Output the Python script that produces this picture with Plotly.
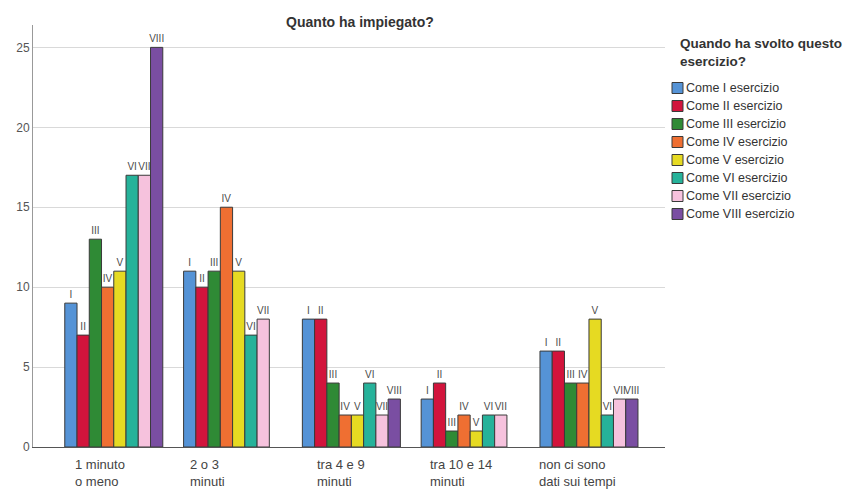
import plotly.graph_objects as go

# Time categories (x axis), shown as two-line labels
categories = ["1 minuto o meno", "2 o 3 minuti", "tra 4 e 9 minuti",
              "tra 10 e 14 minuti", "non ci sono dati sui tempi"]
category_labels = ["1 minuto<br>o meno", "2 o 3<br>minuti", "tra 4 e 9<br>minuti",
                   "tra 10 e 14<br>minuti", "non ci sono<br>dati sui tempi"]

# One series per exercise position
series_names = ["Come I esercizio", "Come II esercizio", "Come III esercizio",
                "Come IV esercizio", "Come V esercizio", "Come VI esercizio",
                "Come VII esercizio", "Come VIII esercizio"]
bar_tags = ["I", "II", "III", "IV", "V", "VI", "VII", "VIII"]

counts_I = [9, 11, 8, 3, 6]
counts_II = [7, 10, 8, 4, 6]
counts_III = [13, 11, 4, 1, 4]
counts_IV = [10, 15, 2, 2, 4]
counts_V = [11, 11, 2, 1, 8]
counts_VI = [17, 7, 4, 2, 2]
counts_VII = [17, 8, 2, 2, 3]
counts_VIII = [25, None, 3, None, 3]

y_ticks = [0, 5, 10, 15, 20, 25]

all_counts = [counts_I, counts_II, counts_III, counts_IV,
              counts_V, counts_VI, counts_VII, counts_VIII]
colors = ["#5593d6", "#d2143c", "#2f8a35", "#ef6f32",
          "#e6da22", "#26b29a", "#f6c2dd", "#7a4ea2"]

FONT = "Liberation Sans, Arial, sans-serif"
TAG_FONT = "Liberation Sans Narrow, Arial Narrow, Liberation Sans, sans-serif"
W, H = 857, 491
M_L, M_R, M_T, M_B = 33, 192, 25, 44
PLOT_W = W - M_L - M_R
PLOT_H = H - M_T - M_B


def px_x(px):
    """Pixel column -> paper x."""
    return (px - M_L) / PLOT_W


def px_y(py):
    """Pixel row -> paper y."""
    return (H - M_B - py) / PLOT_H


fig = go.Figure()
for name, tag, vals, col in zip(series_names, bar_tags, all_counts, colors):
    fig.add_trace(go.Bar(
        name=name,
        x=categories,
        y=vals,
        marker=dict(color=col, line=dict(color="#3a3a3a", width=1)),
        text=[tag if v is not None else "" for v in vals],
        textposition="outside",
        constraintext="none",
        cliponaxis=False,
        textfont=dict(family=TAG_FONT, size=10, color="#4a4a4a"),
        showlegend=False,
    ))

# Left-aligned two-line category labels under each group
label_shift = [-41, -45, -36, -42, -52]
for cat, lab, dx in zip(categories, category_labels, label_shift):
    fig.add_annotation(
        x=cat, xref="x", y=0, yref="paper",
        text=lab, showarrow=False,
        xanchor="left", yanchor="top", align="left",
        xshift=dx, yshift=-8,
        font=dict(family=FONT, size=13, color="#444444"),
    )

# Legend block: title, then a swatch and a label per series
fig.add_annotation(
    x=px_x(678), xref="paper", y=px_y(34), yref="paper",
    text="<b>Quando ha svolto questo<br>esercizio?</b>",
    showarrow=False, xanchor="left", yanchor="top", align="left",
    font=dict(family=FONT, size=13.5, color="#333333"),
)
for i, (name, col) in enumerate(zip(series_names, colors)):
    cy = 88 + i * 18
    fig.add_shape(
        type="rect", xref="paper", yref="paper",
        x0=px_x(672), x1=px_x(683), y0=px_y(cy + 5.5), y1=px_y(cy - 5.5),
        fillcolor=col, line=dict(color="#3a3a3a", width=1),
    )
    fig.add_annotation(
        x=px_x(684), xref="paper", y=px_y(cy), yref="paper",
        text=name, showarrow=False, xanchor="left", yanchor="middle",
        font=dict(family=FONT, size=12.5, color="#333333"),
    )

fig.update_layout(
    width=W, height=H,
    margin=dict(l=M_L, r=M_R, t=M_T, b=M_B),
    paper_bgcolor="white", plot_bgcolor="white",
    barmode="group", bargap=0.175, bargroupgap=0,
    font=dict(family=FONT, size=11, color="#333333"),
    showlegend=False,
    title=dict(
        text="<b>Quanto ha impiegato?</b>",
        x=px_x(360), xref="paper", xanchor="center",
        y=1 - 22 / H, yref="container", yanchor="middle",
        font=dict(family=FONT, size=14, color="#333333"),
    ),
    xaxis=dict(
        range=[-0.68, 4.64],
        showticklabels=False, ticks="",
        showline=True, linecolor="#555555", linewidth=1,
        showgrid=False, zeroline=False,
    ),
    yaxis=dict(
        range=[0, 26.4],
        tickvals=y_ticks,
        tickfont=dict(family=FONT, size=12, color="#555555"),
        showline=True, linecolor="#999999", linewidth=1,
        showgrid=True, gridcolor="#d9d9d9", gridwidth=1,
        zeroline=False, ticks="", ticklen=0,
    ),
)

fig.write_html("out.html")
